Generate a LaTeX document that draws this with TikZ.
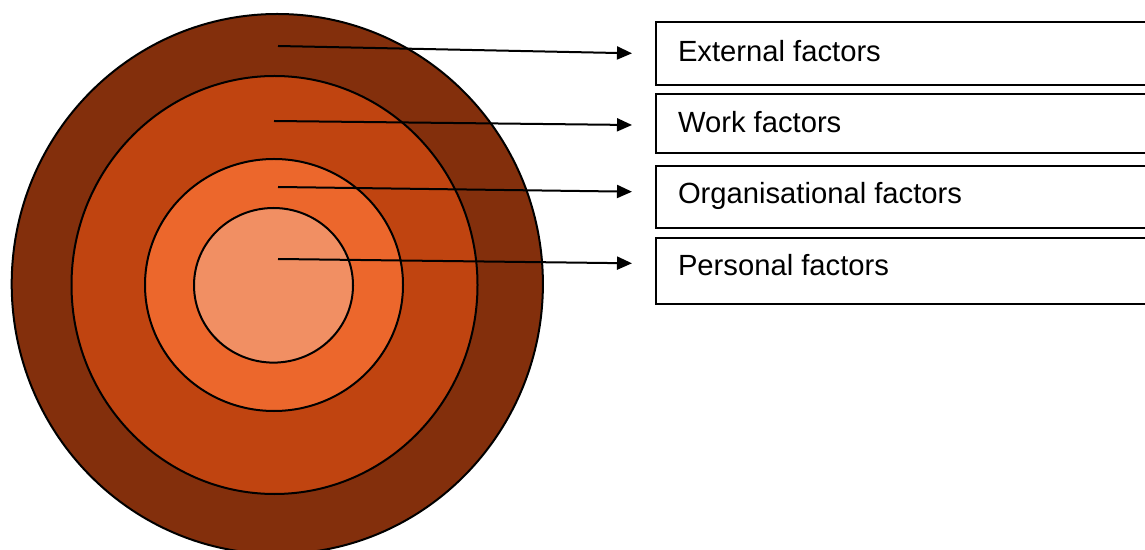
\documentclass[tikz,border=0pt]{standalone}
\usepackage{fontspec}
\setmainfont{Liberation Sans}
\usetikzlibrary{arrows.meta,shapes.geometric}
\definecolor{ringOuter}{HTML}{832F0C}
\definecolor{ringWork}{HTML}{C04410}
\definecolor{ringOrg}{HTML}{EC672C}
\definecolor{ringPersonal}{HTML}{F18F63}
\begin{document}
\begin{tikzpicture}[x=0.5pt,y=-0.5pt,
  ring/.style={ellipse, draw=black, line width=1pt, inner sep=0pt, outer sep=0pt},
  factorbox/.style={rectangle, draw=black, line width=1pt, anchor=north west,
    minimum width=260pt, inner sep=0pt, outer sep=0pt},
  factorlabel/.style={anchor=base west, inner sep=0pt, outer sep=0pt,
    font=\fontsize{14.6pt}{17pt}\selectfont},
  pointer/.style={draw=black, line width=1pt, -{Triangle[length=7.5pt,width=6.5pt]}}]
\useasboundingbox (0,0) rectangle (1145,550);
\clip (0,0) rectangle (1145,550);

% concentric rings, outermost first
\node[ring, fill=ringOuter,    minimum width=265.6pt, minimum height=270pt]   (outer)    at (277.3,284) {};
\node[ring, fill=ringWork,     minimum width=203pt,   minimum height=209pt]   (work)     at (274.5,285) {};
\node[ring, fill=ringOrg,      minimum width=129pt,   minimum height=126pt]   (org)      at (274,285)   {};
\node[ring, fill=ringPersonal, minimum width=79.5pt,  minimum height=77.3pt]  (personal) at (273.5,285.3) {};

% label boxes (they run past the right edge)
\node[factorbox, minimum height=31.35pt] (boxExt)  at (656,22.3)  {};
\node[factorbox, minimum height=29.5pt]  (boxWork) at (656,94.3)  {};
\node[factorbox, minimum height=30.85pt] (boxOrg)  at (656,166)   {};
\node[factorbox, minimum height=33.3pt]  (boxPers) at (656,237.7) {};

\node[factorlabel] (lblExt)  at (678,61.5)  {External factors};
\node[factorlabel] (lblWork) at (678,133)   {Work factors};
\node[factorlabel] (lblOrg)  at (678,204)   {Organisational factors};
\node[factorlabel] (lblPers) at (678,275.5) {Personal factors};

% pointers from each ring to its label
\coordinate (s1) at (278,46);   \coordinate (t1) at (632,53.3);
\coordinate (s2) at (274,121);  \coordinate (t2) at (632,125);
\coordinate (s3) at (278,187);  \coordinate (t3) at (632,191.7);
\coordinate (s4) at (278,259);  \coordinate (t4) at (632,263.3);
\draw[pointer] (s1) -- (t1);
\draw[pointer] (s2) -- (t2);
\draw[pointer] (s3) -- (t3);
\draw[pointer] (s4) -- (t4);
\end{tikzpicture}
\end{document}
